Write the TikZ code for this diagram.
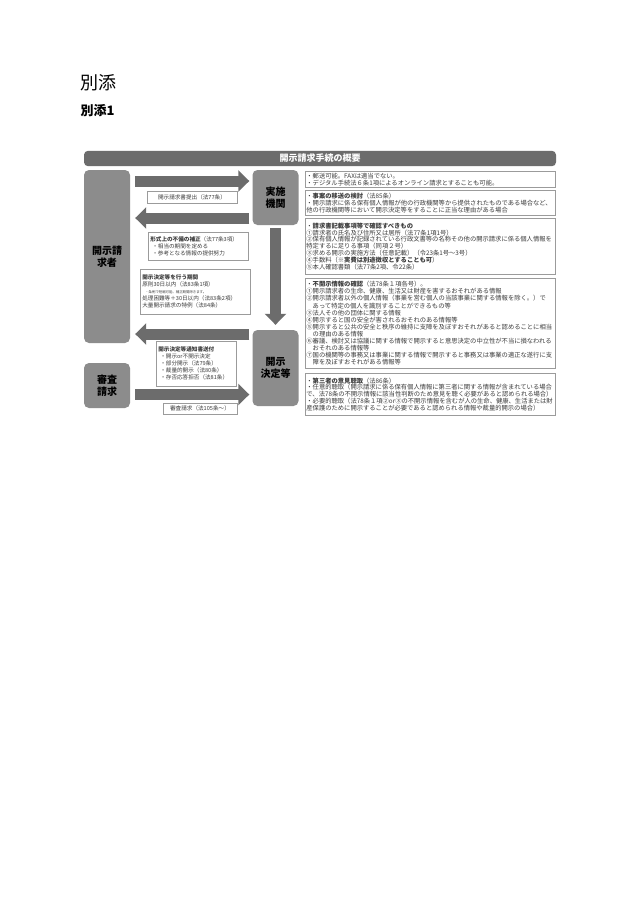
\documentclass[tikz,border=0pt]{standalone}
\usepackage{fontspec}
\setmainfont{Noto Sans CJK JP}
\usepackage{tikz}
\usetikzlibrary{arrows.meta,positioning}
\definecolor{boxgray}{RGB}{140,140,140}
\definecolor{arrowgray}{RGB}{108,108,108}
\definecolor{framegray}{RGB}{155,155,155}
\definecolor{textgray}{RGB}{60,60,60}
\newcommand{\memofont}{\fontsize{6.3}{6.9}\selectfont}
\newcommand{\tagfont}{\fontsize{5.6}{7}\selectfont}
\tikzstyle{bigarrow} = [line width=11pt, -{Triangle[length=11pt,width=21pt]}, color=arrowgray]
\tikzstyle{actor} = [rectangle, rounded corners=5pt, fill=boxgray, minimum width=46pt, font=\fontsize{10}{12.5}\selectfont\bfseries, align=center]
\tikzstyle{tag} = [rectangle, draw=framegray, line width=0.6pt, fill=white, text=textgray, font=\tagfont, inner sep=2pt]
\tikzstyle{tagl} = [tag, anchor=north west, align=left]
\tikzstyle{memo} = [rectangle, draw=framegray, line width=0.8pt, anchor=north west, text width=248pt, align=left, inner xsep=1pt, inner ysep=1pt, text=textgray, font=\memofont]

\begin{document}
\begin{tikzpicture}[x=1pt, y=-1pt]
\useasboundingbox[fill=white] (0,0) rectangle (630,903);

% Headings
\node[anchor=west, font=\fontsize{18}{18}\selectfont] (head) at (77,83) {別添};
\node[anchor=west, font=\fontsize{13}{13}\selectfont\bfseries] (subhead) at (77,111) {別添1};

% Title bar
\node[rectangle, rounded corners=4pt, fill=arrowgray, minimum width=472pt, minimum height=13pt, text=white, font=\fontsize{9}{9}\selectfont\bfseries] (title) at (320,158.5) {開示請求手続の概要};

% Actors
\node[actor, minimum height=173pt] (req) at (107,256.5) {開示請\\求者};
\node[actor, minimum height=45pt] (appeal) at (107,385.5) {審査\\請求};
\node[actor, minimum height=55pt] (impl) at (275.5,197.5) {実施\\機関};
\node[actor, minimum height=76pt] (decide) at (275.5,368) {開示\\決定等};

% Arrows
\draw[bigarrow, shorten <=5pt, shorten >=3pt] (req.east |- 0,181) -- (impl.west |- 0,181);
\draw[bigarrow, shorten <=3pt, shorten >=5pt] (impl.west |- 0,218) -- (req.east |- 0,218);
\draw[bigarrow, shorten <=3pt, shorten >=5pt] (impl.south) -- (decide.north);
\draw[bigarrow, shorten <=3pt, shorten >=5pt] (decide.west |- 0,334) -- (req.east |- 0,334);
\draw[bigarrow, shorten <=5pt, shorten >=3pt] (appeal.east |- 0,394.5) -- (decide.west |- 0,394.5);

% Steps
\node[tag, minimum width=90pt, minimum height=12pt] (submit) at (192,197) {開示請求書提出（法77条）};
\node[tagl, text width=96pt, minimum height=28pt] (fix) at (148,232) {\textbf{形式上の不備の補正}（法77条3項）\\\hspace{2pt}・相当の期間を定める\\\hspace{2pt}・参考となる情報の提供努力};
\node[tagl, text width=106pt, minimum height=45pt] (period) at (140,269) {\textbf{開示決定等を行う期間}\\原則30日以内（法83条1項）\\{\fontsize{3.4}{4.5}\selectfont\hspace{3pt}・条例で短縮可能、補正期間除きます。}\\処理困難等＋30日以内（法83条2項）\\大量開示請求の特例（法84条）};
\node[tagl, text width=76pt, minimum height=45pt] (notice) at (156,341) {\textbf{開示決定等通知書送付}\\\hspace{2pt}・開示or不開示決定\\\hspace{2pt}・部分開示（法79条）\\\hspace{2pt}・裁量的開示（法80条）\\\hspace{2pt}・存否応答拒否（法81条）};
\node[tag, minimum width=74pt, minimum height=11pt] (review) at (200,408.5) {審査請求（法105条～）};

% Notes
\node[memo, minimum height=16pt] (mail) at (305,171) {・郵送可能。FAXは適当でない。\\・デジタル手続法６条1項によるオンライン請求とすることも可能。};
\node[memo, minimum height=25pt] (transfer) at (305,190) {・\textbf{事案の移送の検討}（法85条）\\・開示請求に係る保有個人情報が他の行政機関等から提供されたものである場合など、\\他の行政機関等において開示決定等をすることに正当な理由がある場合};
\node[memo, minimum height=56pt] (check) at (305,218) {・\textbf{請求書記載事項等で確認すべきもの}\\①請求者の氏名及び住所又は居所（法77条1項1号）\\②保有個人情報が記録されている行政文書等の名称その他の開示請求に係る個人情報を\\特定するに足りる事項（同項２号）\\③求める開示の実施方法（任意記載）（令23条1号～3号）\\④手数料（\textbf{※実費は別途徴収とすることも可}）\\⑤本人確認書類（法77条2項、令22条）};
\node[memo, minimum height=90pt, font=\fontsize{6.3}{7.1}\selectfont] (secret) at (305,278) {・\textbf{不開示情報の確認}（法78条１項各号）。\\①開示請求者の生命、健康、生活又は財産を害するおそれがある情報\\②開示請求者以外の個人情報（事業を営む個人の当該事業に関する情報を除く。）で\\　あって特定の個人を識別することができるもの等\\③法人その他の団体に関する情報\\④開示すると国の安全が害されるおそれのある情報等\\⑤開示すると公共の安全と秩序の維持に支障を及ぼすおそれがあると認めることに相当\\　の理由のある情報\\⑥審議、検討又は協議に関する情報で開示すると意思決定の中立性が不当に損なわれる\\　おそれのある情報等\\⑦国の機関等の事務又は事業に関する情報で開示すると事務又は事業の適正な遂行に支\\　障を及ぼすおそれがある情報等};
\node[memo, minimum height=42pt] (third) at (305,373) {・\textbf{第三者の意見聴取}（法86条）\\・任意的聴取（開示請求に係る保有個人情報に第三者に関する情報が含まれている場合\\で、法78条の不開示情報に該当性判断のため意見を聴く必要があると認められる場合）\\・必要的聴取（法78条１項②or③の不開示情報を含むが人の生命、健康、生活または財\\産保護のために開示することが必要であると認められる情報や裁量的開示の場合）};
\end{tikzpicture}
\end{document}
